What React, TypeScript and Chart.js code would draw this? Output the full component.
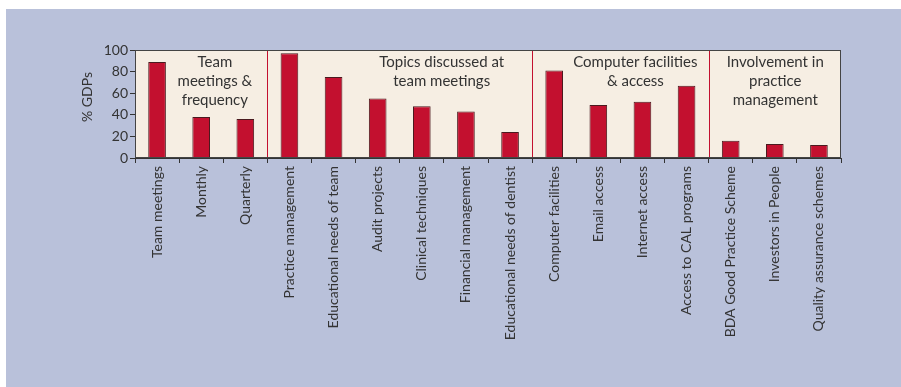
import { useEffect, useRef } from "react";
import { Chart, registerables } from "chart.js";

Chart.register(...registerables);

// Survey results: share of GDPs (%) per item
const categories = [
  "Team meetings",
  "Monthly",
  "Quarterly",
  "Practice management",
  "Educational needs of team",
  "Audit projects",
  "Clinical techniques",
  "Financial management",
  "Educational needs of dentist",
  "Computer facilities",
  "Email access",
  "Internet access",
  "Access to CAL programs",
  "BDA Good Practice Scheme",
  "Investors in People",
  "Quality assurance schemes",
];
const percentages = [89, 38, 36, 97, 75, 55, 48, 43, 24, 81, 49, 52, 67, 16, 13, 12];

// Number of categories in each section, in order
const groupSizes = [3, 6, 4, 3];
const groupTitles = [
  ["Team", "meetings &", "frequency"],
  ["Topics discussed at", "team meetings"],
  ["Computer facilities", "& access"],
  ["Involvement in", "practice", "management"],
];
const yTickValues = [0, 20, 40, 60, 80, 100];
const yTitle = "% GDPs";

const FONT = "Lato, 'Open Sans', sans-serif";
const TEXT = "#333333";

// Section titles sit a little right of each section's centre (in category widths)
const titleShift = [0.31, 0.95, 0.34, 0.01];

const sectionsPlugin = {
  id: "sections",
  beforeDatasetsDraw(chart: any) {
    const { ctx, chartArea } = chart;
    const x = chart.scales.x;
    ctx.save();
    ctx.fillStyle = "#f6eee3";
    ctx.fillRect(chartArea.left, chartArea.top, chartArea.right - chartArea.left, chartArea.bottom - chartArea.top);

    const step = x.getPixelForValue(1) - x.getPixelForValue(0);
    let start = 0;
    groupSizes.forEach((size, gi) => {
      const end = start + size;
      if (end < categories.length) {
        const px = Math.round(x.getPixelForValue(end) - step / 2) + 0.5;
        ctx.strokeStyle = "#c3102f";
        ctx.lineWidth = 1;
        ctx.beginPath();
        ctx.moveTo(px, chartArea.top);
        ctx.lineTo(px, chartArea.bottom);
        ctx.stroke();
      }
      const cx = x.getPixelForValue(start) - step / 2 + (size / 2 + titleShift[gi]) * step;
      ctx.fillStyle = TEXT;
      ctx.font = `15px ${FONT}`;
      ctx.textAlign = "center";
      ctx.textBaseline = "middle";
      groupTitles[gi].forEach((line, li) => {
        ctx.fillText(line, cx, chartArea.top + 12 + li * 19);
      });
      start = end;
    });
    ctx.restore();
  },
  afterDatasetsDraw(chart: any) {
    const { ctx, chartArea } = chart;
    ctx.save();
    ctx.strokeStyle = "#444444";
    ctx.lineWidth = 1;
    ctx.strokeRect(
      Math.round(chartArea.left) + 0.5,
      Math.round(chartArea.top) + 0.5,
      Math.round(chartArea.right - chartArea.left) - 1,
      Math.round(chartArea.bottom - chartArea.top) - 1
    );
    // y axis title
    ctx.fillStyle = TEXT;
    ctx.font = `14px ${FONT}`;
    ctx.textAlign = "center";
    ctx.textBaseline = "middle";
    ctx.translate(87, 97);
    ctx.rotate(-Math.PI / 2);
    ctx.fillText(yTitle, 0, 0);
    ctx.restore();
  },
};

export default function App() {
  const canvasRef = useRef<HTMLCanvasElement | null>(null);

  useEffect(() => {
    const canvas = canvasRef.current;
    if (!canvas) return;
    const chart = new Chart(canvas, {
      type: "bar",
      data: {
        labels: categories,
        datasets: [
          {
            data: percentages,
            backgroundColor: "#c3102f",
            borderColor: "#4a1a1f",
            borderWidth: 1,
            categoryPercentage: 1,
            barPercentage: 0.4,
          },
        ],
      },
      options: {
        animation: false,
        responsive: false,
        maintainAspectRatio: false,
        devicePixelRatio: 1,
        layout: { padding: { left: 80, top: 50, right: 60, bottom: 0 } },
        plugins: {
          legend: { display: false },
          tooltip: { enabled: false },
        },
        scales: {
          x: {
            offset: true,
            border: { display: true, color: "#333333" },
            grid: {
              offset: true,
              drawOnChartArea: false,
              drawTicks: true,
              tickLength: 5,
              color: "#333333",
            },
            ticks: {
              autoSkip: false,
              minRotation: 90,
              maxRotation: 90,
              padding: 3,
              color: TEXT,
              font: { family: FONT, size: 14 },
            },
            afterFit(scale: any) {
              scale.height = 229;
            },
          },
          y: {
            min: 0,
            max: 100,
            afterBuildTicks(scale: any) {
              scale.ticks = yTickValues.map((v) => ({ value: v }));
            },
            border: { display: true, color: "#333333" },
            grid: {
              drawOnChartArea: false,
              drawTicks: true,
              tickLength: 5,
              color: "#333333",
            },
            ticks: {
              padding: 2,
              color: TEXT,
              font: { family: FONT, size: 14 },
            },
            afterFit(scale: any) {
              scale.width = 55;
            },
          },
        },
      },
      plugins: [sectionsPlugin],
    });
    return () => chart.destroy();
  }, []);

  return (
    <div
      style={{
        position: "fixed",
        left: 0,
        top: 0,
        width: 901,
        height: 387,
        background: "#ffffff",
        overflow: "hidden",
      }}
    >
      <div
        style={{
          position: "absolute",
          left: 6,
          top: 9,
          right: 0,
          bottom: 0,
          background: "#b9c1da",
        }}
      />
      <canvas
        ref={canvasRef}
        width={901}
        height={387}
        style={{ position: "absolute", left: 0, top: 0, width: 901, height: 387 }}
      />
    </div>
  );
}
